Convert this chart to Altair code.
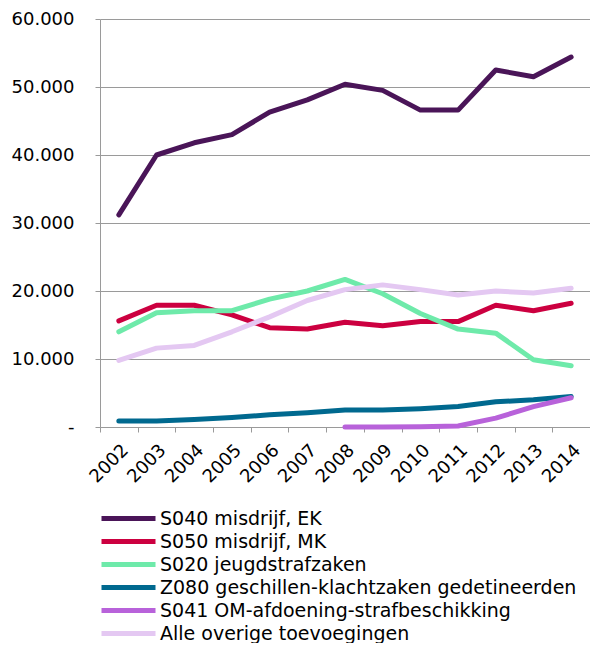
import altair as alt
import pandas as pd

years = [str(y) for y in range(2002, 2015)]
series_names = [
    "S040 misdrijf, EK",
    "S050 misdrijf, MK",
    "S020 jeugdstrafzaken",
    "Z080 geschillen-klachtzaken gedetineerden",
    "S041 OM-afdoening-strafbeschikking",
    "Alle overige toevoegingen",
]
colors = ["#4A1558", "#CC0040", "#6EEAAA", "#00698F", "#B862DA", "#E4C8F2"]

s040 = [31200, 40000, 41800, 43000, 46300, 48100, 50400, 49500, 46600, 46600, 52500, 51500, 54400]
s050 = [15600, 17900, 17900, 16500, 14600, 14400, 15400, 14900, 15500, 15500, 17900, 17100, 18200]
s020 = [14000, 16800, 17100, 17100, 18800, 20000, 21700, 19600, 16700, 14400, 13800, 9900, 9000]
z080 = [900, 900, 1100, 1400, 1800, 2100, 2500, 2500, 2700, 3000, 3700, 4000, 4500]
s041_years = [str(y) for y in range(2008, 2015)]
s041 = [0, 0, 50, 150, 1300, 3000, 4300]
alle = [9800, 11600, 12000, 14000, 16200, 18600, 20200, 20900, 20200, 19400, 20000, 19700, 20400]

rows = []
for name, yrs, vals in [
    (series_names[0], years, s040),
    (series_names[1], years, s050),
    (series_names[2], years, s020),
    (series_names[3], years, z080),
    (series_names[4], s041_years, s041),
    (series_names[5], years, alle),
]:
    for yr, v in zip(yrs, vals):
        rows.append({"jaar": yr, "reeks": name, "aantal": v})
df = pd.DataFrame(rows)

FONT = "DejaVu Sans"
GRAY = "#9A9A9A"

chart = (
    alt.Chart(df)
    .mark_line(strokeWidth=5, strokeCap="round", strokeJoin="round")
    .encode(
        x=alt.X(
            "jaar:N",
            sort=years,
            scale=alt.Scale(domain=years, paddingInner=0, paddingOuter=0),
            axis=alt.Axis(
                title=None,
                labelAngle=-45,
                labelPadding=9,
                tickBand="extent",
                tickSize=5,
                tickColor=GRAY,
                domainColor=GRAY,
                labelFont=FONT,
                labelFontSize=18,
                labelColor="#000000",
                grid=False,
            ),
        ),
        y=alt.Y(
            "aantal:Q",
            scale=alt.Scale(domain=[0, 60000], nice=False),
            axis=alt.Axis(
                title=None,
                values=[0, 10000, 20000, 30000, 40000, 50000, 60000],
                labelExpr="datum.value == 0 ? '-\u00a0\u00a0' : replace(format(datum.value, ',.0f'), ',', '.')",
                grid=True,
                gridColor=GRAY,
                gridWidth=1,
                tickSize=5,
                tickColor=GRAY,
                domainColor=GRAY,
                labelPadding=21,
                labelFont=FONT,
                labelFontSize=18,
                labelColor="#000000",
            ),
        ),
        color=alt.Color(
            "reeks:N",
            sort=series_names,
            scale=alt.Scale(domain=series_names, range=colors),
            legend=alt.Legend(
                title=None,
                orient="none",
                legendX=17,
                legendY=488,
                direction="vertical",
                symbolType="M-3,0H3",
                symbolSize=324,
                symbolStrokeWidth=5,
                labelOffset=20,
                labelFont=FONT,
                labelFontSize=19,
                labelColor="#000000",
                labelLimit=0,
                rowPadding=1,
                padding=0,
            ),
        ),
    )
    .properties(
        width=490,
        height=408,
        autosize=alt.AutoSizeParams(type="none"),
        padding={"left": 92, "top": 11, "right": 0, "bottom": 216},
    )
    .configure_view(stroke=None)
)

chart.save("out.html", embed_options={"renderer": "svg", "actions": False})
